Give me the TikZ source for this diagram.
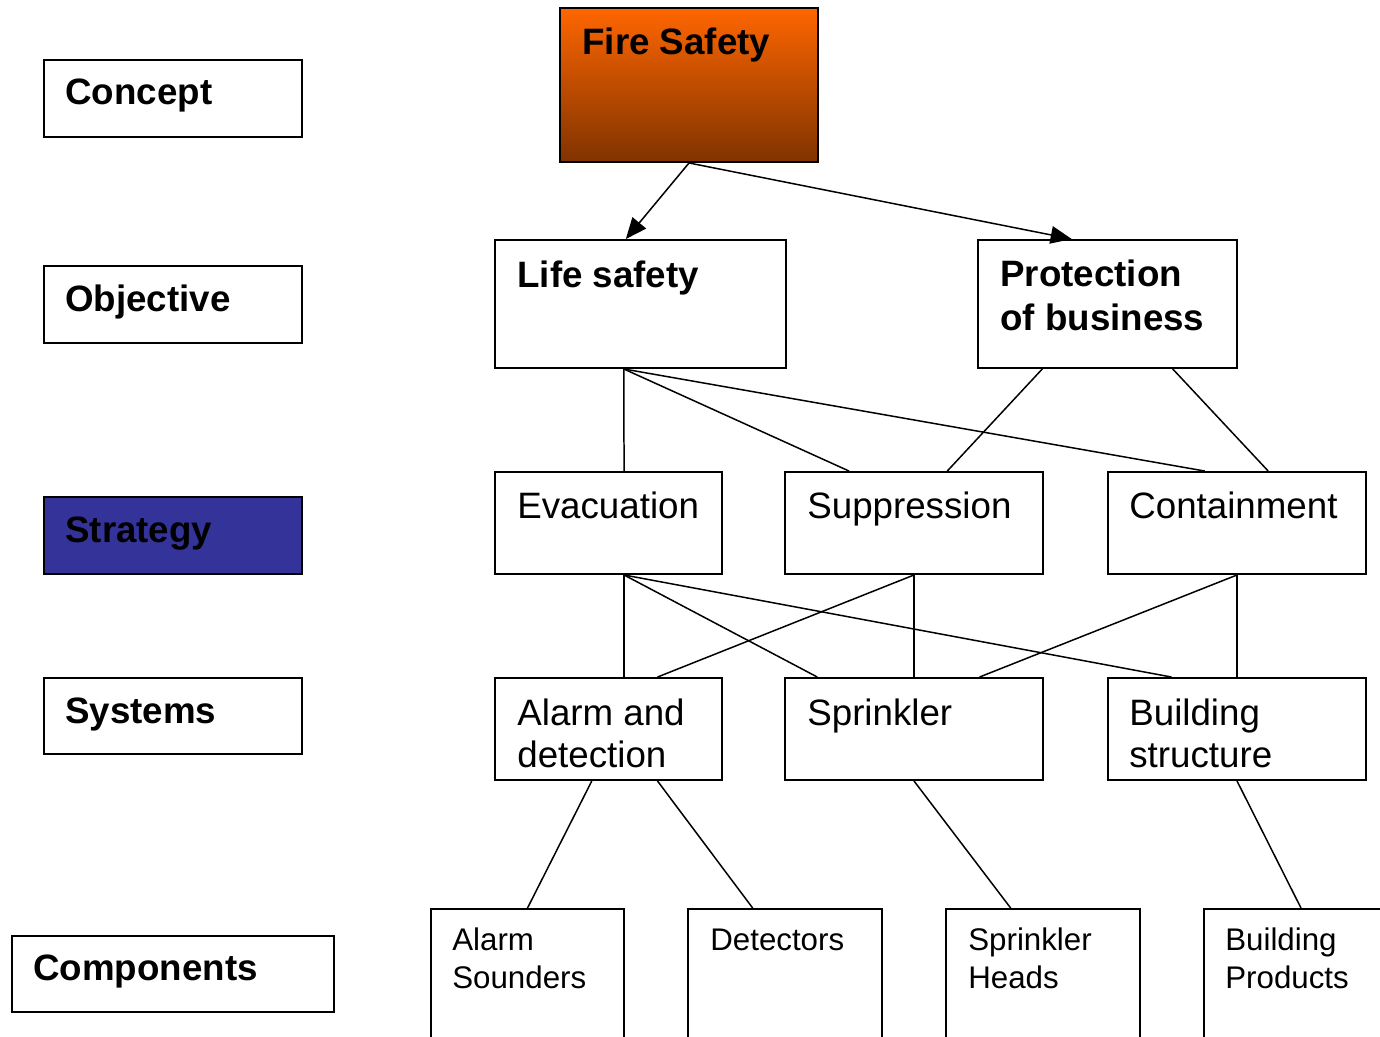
\documentclass[tikz,border=0pt]{standalone}
\usepackage{fontspec}
\setmainfont{Liberation Sans}
\usetikzlibrary{fit,calc,arrows.meta}
\definecolor{fireorange}{RGB}{255,102,0}
\definecolor{firebrown}{RGB}{128,51,0}
\definecolor{strategyblue}{RGB}{51,51,153}
\tikzset{
  frame/.style={draw, line width=1.1pt, inner sep=0pt},
  bigtext/.style={anchor=base west, inner sep=0pt, align=left, font=\fontsize{20.9}{24.6}\selectfont\bfseries},
  plaintext/.style={anchor=base west, inner sep=0pt, align=left, font=\fontsize{20.9}{23.8}\selectfont},
  smalltext/.style={anchor=base west, inner sep=0pt, align=left, font=\fontsize{17.8}{21.5}\selectfont},
  link/.style={line width=0.85pt},
  pointer/.style={link, -{Triangle[length=12pt,width=10pt]}}
}
\begin{document}
\begin{tikzpicture}[x=0.02cm,y=-0.02cm]
  \useasboundingbox (0,0) rectangle (1380,1036);
  \clip (0,0) rectangle (1380,1036);

  % level names on the left
  \node[frame, fit={(44,60) (302,137)}] (concept) {};
  \node[bigtext] (concept-t) at (65,104) {Concept};
  \node[frame, fit={(44,266) (302,343)}] (objective) {};
  \node[bigtext] (objective-t) at (65,311) {Objective};
  \node[frame, fill=strategyblue, fit={(44,497) (302,574)}] (strategy) {};
  \node[bigtext] (strategy-t) at (65,542) {Strategy};
  \node[frame, fit={(44,678) (302,754)}] (systems) {};
  \node[bigtext] (systems-t) at (65,723) {Systems};
  \node[frame, fit={(12,936) (334,1012)}] (components) {};
  \node[bigtext] (components-t) at (33,980) {Components};

  % concept and objectives
  \node[frame, top color=fireorange, bottom color=firebrown, fit={(560,8) (818,162)}] (fire) {};
  \node[bigtext] (fire-t) at (582,54) {Fire Safety};
  \node[frame, fit={(495,240) (786,368)}] (life) {};
  \node[bigtext] (life-t) at (517,287) {Life safety};
  \node[frame, fit={(978,240) (1237,368)}] (business) {};
  \node[bigtext] (business-t) at (1000,330) {Protection\\of business};

  % strategies
  \node[frame, fit={(495,472) (722,574)}] (evac) {};
  \node[plaintext] (evac-t) at (517,518) {Evacuation};
  \node[frame, fit={(785,472) (1043,574)}] (suppr) {};
  \node[plaintext] (suppr-t) at (807,518) {Suppression};
  \node[frame, fit={(1108,472) (1366,574)}] (contain) {};
  \node[plaintext] (contain-t) at (1129,518) {Containment};

  % systems
  \node[frame, fit={(495,678) (722,780)}] (alarm) {};
  \node[plaintext] (alarm-t) at (517,767) {Alarm and\\detection};
  \node[frame, fit={(785,678) (1043,780)}] (sprinkler) {};
  \node[plaintext] (sprinkler-t) at (807,725) {Sprinkler};
  \node[frame, fit={(1108,678) (1366,780)}] (structure) {};
  \node[plaintext] (structure-t) at (1129,767) {Building\\structure};

  % components
  \node[frame, fit={(431,909) (624,1060)}] (sounders) {};
  \node[smalltext] (sounders-t) at (452,988) {Alarm\\Sounders};
  \node[frame, fit={(688,909) (882,1060)}] (detectors) {};
  \node[smalltext] (detectors-t) at (710,950) {Detectors};
  \node[frame, fit={(946,909) (1140,1060)}] (heads) {};
  \node[smalltext] (heads-t) at (968,988) {Sprinkler\\Heads};
  \node[frame, fit={(1204,909) (1398,1060)}] (products) {};
  \node[smalltext] (products-t) at (1225,988) {Building\\Products};

  % arrows and links
  \draw[pointer] (fire.south) -- ($(life.north west)!0.45!(life.north east)$);
  \draw[pointer] (fire.south) -- ($(business.north west)!0.363!(business.north east)$);

  \draw[link] ($(life.south west)!0.443!(life.south east)$) -- ($(evac.north west)!0.568!(evac.north east)$);
  \draw[link] ($(life.south west)!0.443!(life.south east)$) -- ($(suppr.north west)!0.25!(suppr.north east)$);
  \draw[link] ($(life.south west)!0.443!(life.south east)$) -- ($(contain.north west)!0.376!(contain.north east)$);
  \draw[link] ($(business.south west)!0.25!(business.south east)$) -- ($(suppr.north west)!0.628!(suppr.north east)$);
  \draw[link] ($(business.south west)!0.75!(business.south east)$) -- ($(contain.north west)!0.62!(contain.north east)$);

  \draw[link] ($(evac.south west)!0.568!(evac.south east)$) -- ($(alarm.north west)!0.568!(alarm.north east)$);
  \draw[link] ($(evac.south west)!0.568!(evac.south east)$) -- ($(sprinkler.north west)!0.128!(sprinkler.north east)$);
  \draw[link] ($(evac.south west)!0.568!(evac.south east)$) -- ($(structure.north west)!0.248!(structure.north east)$);
  \draw[link] (suppr.south) -- ($(alarm.north west)!0.714!(alarm.north east)$);
  \draw[link] (suppr.south) -- (sprinkler.north);
  \draw[link] (contain.south) -- ($(sprinkler.north west)!0.752!(sprinkler.north east)$);
  \draw[link] (contain.south) -- (structure.north);

  \draw[link] ($(alarm.south west)!0.427!(alarm.south east)$) -- (sounders.north);
  \draw[link] ($(alarm.south west)!0.714!(alarm.south east)$) -- ($(detectors.north west)!0.335!(detectors.north east)$);
  \draw[link] (sprinkler.south) -- ($(heads.north west)!0.335!(heads.north east)$);
  \draw[link] (structure.south) -- (products.north);
\end{tikzpicture}
\end{document}
